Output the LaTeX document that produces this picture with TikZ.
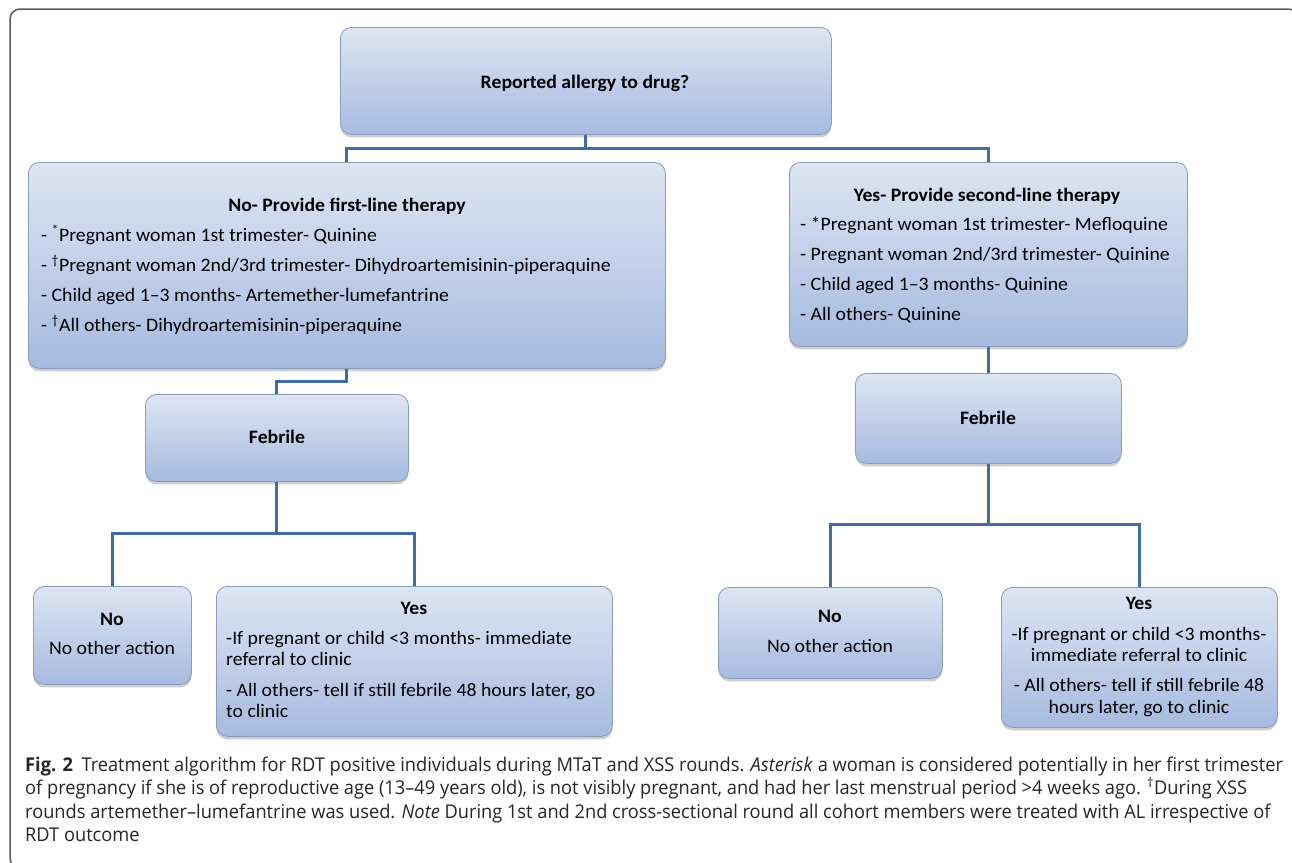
\documentclass[tikz,border=0pt]{standalone}
\usepackage{fontspec}
\setmainfont[FakeStretch=1.04]{Carlito}
\newfontfamily\capfont[FakeStretch=0.96]{Open Sans}
\usetikzlibrary{shadows}
\definecolor{boxtop}{HTML}{DDE5F3}
\definecolor{boxbot}{HTML}{A6BBE0}
\definecolor{boxline}{HTML}{8A9CBB}
\definecolor{conncol}{HTML}{3F6CA6}
\definecolor{framecol}{HTML}{5A5A5A}
\tikzset{
  box/.style 2 args={draw=boxline, line width=0.8pt, rounded corners=11pt,
    top color=boxtop, bottom color=boxbot, anchor=north west, inner sep=0pt,
    minimum width=#1pt, minimum height=#2pt,
    drop shadow={shadow xshift=0pt, shadow yshift=-3pt, opacity=0.35, fill=black!55}},
  txt/.style={font=\fontsize{19}{22}\selectfont, inner sep=0pt, text=black},
  btxt/.style={font=\fontsize{19}{22}\selectfont\bfseries, inner sep=0pt, text=black},
  captxt/.style={font=\capfont\fontsize{19}{23}\selectfont, inner sep=0pt, anchor=base west, text=black!85},
  conn/.style={draw=conncol, line width=3pt}
}
\begin{document}
\begin{tikzpicture}[x=1pt,y=-1pt]
\useasboundingbox (0,0) rectangle (1292,862);
\fill[white] (0,0) rectangle (1292,862);
\draw[framecol, line width=1.5pt, rounded corners=10pt] (10,9) rectangle (1298,868);

% boxes
\node[box={491}{107}] (top) at (340,27) {};
\node[box={637}{206}] (left) at (28,162) {};
\node[box={398}{184}] (right) at (789,162) {};
\node[box={263}{87}] (febL) at (145,394) {};
\node[box={266}{90}] (febR) at (855,373) {};
\node[box={158}{98}] (noL) at (33,586) {};
\node[box={396}{150}] (yesL) at (216,586) {};
\node[box={224}{91}] (noR) at (718,587) {};
\node[box={276}{140}] (yesR) at (1001,587) {};

% connectors
\draw[conn] (top.south) -- ++(0,14) -| (left.north);
\draw[conn] (top.south) -- ++(0,14) -| (right.north);
\draw[conn] (left.south) -- ++(0,13) -| (febL.north);
\draw[conn] (right.south) -- (febR.north);
\draw[conn] (febL.south) -- ++(0,52) -| (noL.north);
\draw[conn] (febL.south) -- ++(0,52) -| (yesL.north);
\draw[conn] (febR.south) -- ++(0,61) -| (noR.north);
\draw[conn] (febR.south) -- ++(0,61) -| (yesR.north);

% texts
\node[btxt, anchor=base] (ttop) at (585,88) {Reported allergy to drug?};

\node[btxt, anchor=base] (tl0) at (347,211) {No- Provide first-line therapy};
\node[txt, anchor=base west] (tl1) at (41,241) {- \textsuperscript{*}Pregnant woman 1st trimester- Quinine};
\node[txt, anchor=base west] (tl2) at (41,271) {- \textsuperscript{\textdagger}Pregnant woman 2nd/3rd trimester- Dihydroartemisinin-piperaquine};
\node[txt, anchor=base west] (tl3) at (41,301) {- Child aged 1–3 months- Artemether-lumefantrine};
\node[txt, anchor=base west] (tl4) at (41,331) {- \textsuperscript{\textdagger}All others- Dihydroartemisinin-piperaquine};

\node[btxt, anchor=base] (tr0) at (987,201) {Yes- Provide second-line therapy};
\node[txt, anchor=base west] (tr1) at (800,230) {- *Pregnant woman 1st trimester- Mefloquine};
\node[txt, anchor=base west] (tr2) at (800,260) {- Pregnant woman 2nd/3rd trimester- Quinine};
\node[txt, anchor=base west] (tr3) at (800,290) {- Child aged 1–3 months- Quinine};
\node[txt, anchor=base west] (tr4) at (800,320) {- All others- Quinine};

\node[btxt, anchor=base] (tfl) at (277,443) {Febrile};
\node[btxt, anchor=base] (tfr) at (988,424) {Febrile};

\node[btxt, anchor=base] (tnl0) at (112,625) {No};
\node[txt, anchor=base] (tnl1) at (112,654) {No other action};
\node[btxt, anchor=base] (tnr0) at (830,622) {No};
\node[txt, anchor=base] (tnr1) at (830,652) {No other action};

\node[btxt, anchor=base] (tyl0) at (414,614) {Yes};
\node[txt, anchor=base west] (tyl1) at (226,644) {-If pregnant or child <3 months- immediate};
\node[txt, anchor=base west] (tyl2) at (226,665) {referral to clinic};
\node[txt, anchor=base west] (tyl3) at (226,696) {- All others- tell if still febrile 48 hours later, go};
\node[txt, anchor=base west] (tyl4) at (226,717) {to clinic};

\node[btxt, anchor=base] (tyr0) at (1139,609) {Yes};
\node[txt, anchor=base] (tyr1) at (1139,640) {-If pregnant or child <3 months-};
\node[txt, anchor=base] (tyr2) at (1139,661) {immediate referral to clinic};
\node[txt, anchor=base] (tyr3) at (1139,691) {- All others- tell if still febrile 48};
\node[txt, anchor=base] (tyr4) at (1139,713) {hours later, go to clinic};

% caption
\node[captxt] (cap1) at (25,771) {\textbf{Fig. 2}\hspace{0.45em}Treatment algorithm for RDT positive individuals during MTaT and XSS rounds. \textit{Asterisk} a woman is considered potentially in her first trimester};
\node[captxt] (cap2) at (25,794) {of pregnancy if she is of reproductive age (13–49 years old), is not visibly pregnant, and had her last menstrual period >4 weeks ago. \textsuperscript{\textdagger}During XSS};
\node[captxt] (cap3) at (25,818) {rounds artemether–lumefantrine was used. \textit{Note} During 1st and 2nd cross-sectional round all cohort members were treated with AL irrespective of};
\node[captxt] (cap4) at (25,841) {RDT outcome};
\end{tikzpicture}
\end{document}
